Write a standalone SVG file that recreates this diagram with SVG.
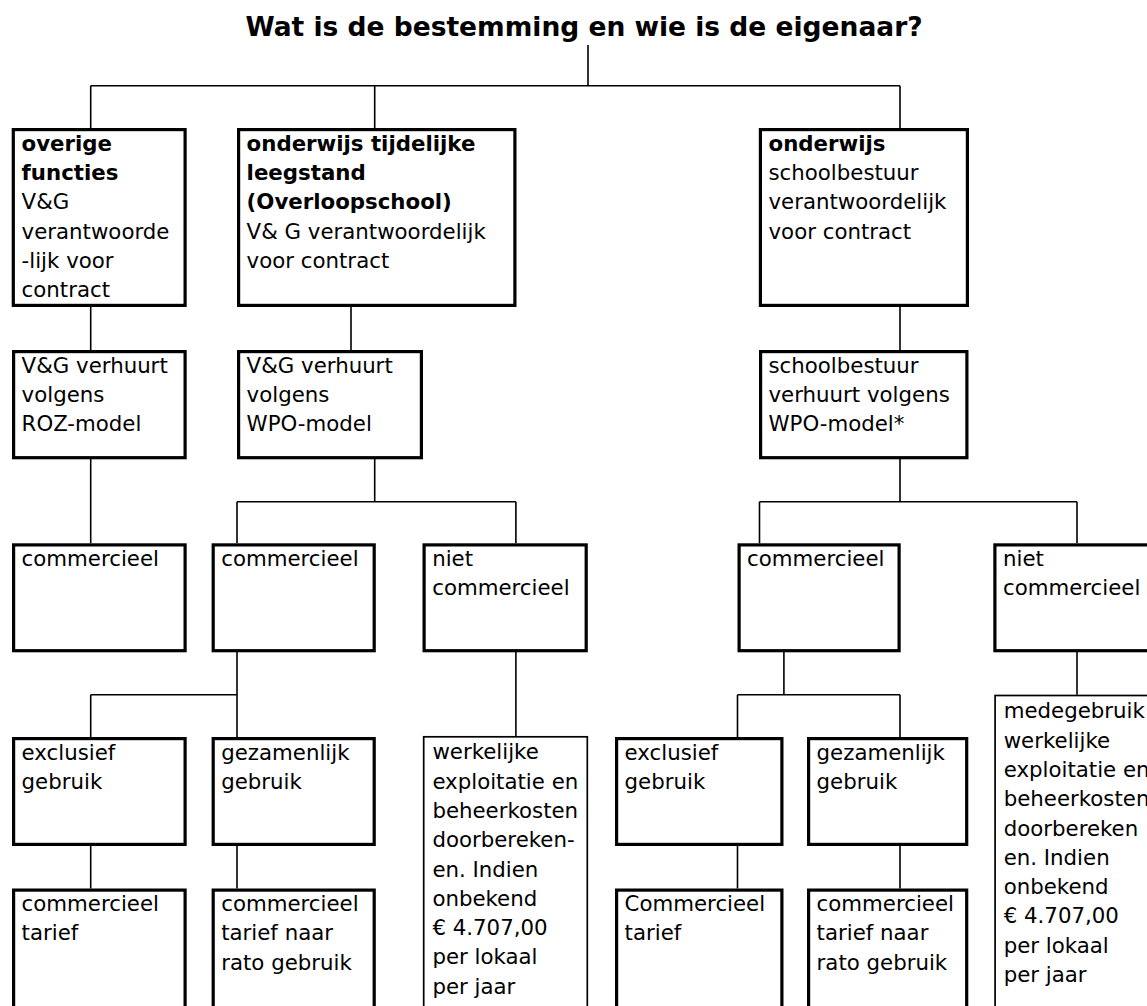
<svg xmlns="http://www.w3.org/2000/svg" width="1147" height="1006" viewBox="0 0 1147 1006">
<style>
.b{fill:#fff;stroke:#000;stroke-width:3.2}
.t{fill:#fff;stroke:#000;stroke-width:1.7}
.c{fill:none;stroke:#000;stroke-width:1.6}
text{font-family:"DejaVu Sans",Verdana,sans-serif;font-size:21.3px;fill:#000}
.h{font-weight:bold}
.title{font-size:26.5px;font-weight:bold}
</style>
<rect width="1147" height="1006" fill="#fff"/>
<text class="title" x="584" y="36" text-anchor="middle">Wat is de bestemming en wie is de eigenaar?</text>
<g id="connectors">
<path class="c" d="M588 45V85.7M90.7 85.7H900M90.7 85.7V128M374.7 85.7V128M900 85.7V128"/>
<path class="c" d="M90.7 307V350M351 307V350M900 307V350"/>
<path class="c" d="M90.7 459V543.3"/>
<path class="c" d="M374.7 459V501.7M237 501.7H515.9M237 501.7V543.3M515.9 501.7V543.3"/>
<path class="c" d="M900 459V501.7M759.5 501.7H1077M759.5 501.7V543.3M1077 501.7V543.3"/>
<path class="c" d="M237 652V737M90.7 694.7H237M90.7 694.7V737"/>
<path class="c" d="M515.9 652V736"/>
<path class="c" d="M783.9 652V694.7M737.5 694.7H900M737.5 694.7V737M900 694.7V737"/>
<path class="c" d="M1077 652V694.7"/>
<path class="c" d="M90.7 846V888.5M237 846V888.5M737.5 846V888.5M900 846V888.5"/>
</g>
<g id="n-overige">
<rect class="b" x="13.3" y="129.6" width="171.8" height="175.8"/>
<text x="21.6" y="150.7"><tspan class="h">overige</tspan><tspan class="h" x="21.6" dy="29.3">functies</tspan><tspan x="21.6" dy="29.3">V&amp;G</tspan><tspan x="21.6" dy="29.3">verantwoorde</tspan><tspan x="21.6" dy="29.3">-lijk voor</tspan><tspan x="21.6" dy="29.3">contract</tspan></text>
</g>
<g id="n-overloop">
<rect class="b" x="238.6" y="129.6" width="276.3" height="175.8"/>
<text x="246.6" y="150.7"><tspan class="h">onderwijs tijdelijke</tspan><tspan class="h" x="246.6" dy="29.3">leegstand</tspan><tspan class="h" x="246.6" dy="29.3">(Overloopschool)</tspan><tspan x="246.6" dy="29.3">V&amp; G verantwoordelijk</tspan><tspan x="246.6" dy="29.3">voor contract</tspan></text>
</g>
<g id="n-onderwijs">
<rect class="b" x="760.4" y="129.6" width="207" height="175.8"/>
<text x="768.5" y="150.7"><tspan class="h">onderwijs</tspan><tspan x="768.5" dy="29.3">schoolbestuur</tspan><tspan x="768.5" dy="29.3">verantwoordelijk</tspan><tspan x="768.5" dy="29.3">voor contract</tspan></text>
</g>
<g id="n-roz">
<rect class="b" x="13.6" y="351.6" width="171.5" height="106.1"/>
<text x="21.6" y="372.7"><tspan>V&amp;G verhuurt</tspan><tspan x="21.6" dy="29.3">volgens</tspan><tspan x="21.6" dy="29.3">ROZ-model</tspan></text>
</g>
<g id="n-wpo1">
<rect class="b" x="238.6" y="351.6" width="182.8" height="106.1"/>
<text x="246.6" y="372.7"><tspan>V&amp;G verhuurt</tspan><tspan x="246.6" dy="29.3">volgens</tspan><tspan x="246.6" dy="29.3">WPO-model</tspan></text>
</g>
<g id="n-wpo2">
<rect class="b" x="760.6" y="351.6" width="206.3" height="106.1"/>
<text x="768.5" y="372.7"><tspan>schoolbestuur</tspan><tspan x="768.5" dy="29.3">verhuurt volgens</tspan><tspan x="768.5" dy="29.3">WPO-model*</tspan></text>
</g>
<g id="n-comm-a">
<rect class="b" x="13.6" y="544.9" width="171.5" height="105.8"/>
<text x="21.6" y="566">commercieel</text>
</g>
<g id="n-comm-b">
<rect class="b" x="213.2" y="544.9" width="161" height="105.8"/>
<text x="221.2" y="566">commercieel</text>
</g>
<g id="n-niet-b">
<rect class="b" x="424.1" y="544.9" width="162.1" height="105.8"/>
<text x="432.2" y="566"><tspan>niet</tspan><tspan x="432.2" dy="29.3">commercieel</tspan></text>
</g>
<g id="n-comm-c">
<rect class="b" x="739.1" y="544.9" width="160" height="105.8"/>
<text x="747.1" y="566">commercieel</text>
</g>
<g id="n-niet-c">
<rect class="b" x="994.9" y="544.9" width="170" height="105.8"/>
<text x="1003" y="566"><tspan>niet</tspan><tspan x="1003" dy="29.3">commercieel</tspan></text>
</g>
<g id="n-excl-b">
<rect class="b" x="13.6" y="738.6" width="171.5" height="105.8"/>
<text x="21.6" y="759.5"><tspan>exclusief</tspan><tspan x="21.6" dy="29.3">gebruik</tspan></text>
</g>
<g id="n-gez-b">
<rect class="b" x="213.2" y="738.6" width="161" height="105.8"/>
<text x="221.2" y="759.5"><tspan>gezamenlijk</tspan><tspan x="221.2" dy="29.3">gebruik</tspan></text>
</g>
<g id="n-werkelijk-b">
<rect class="t" x="423.7" y="736.8" width="163.6" height="300"/>
<text x="432.4" y="759.3"><tspan>werkelijke</tspan><tspan x="432.4" dy="29.3">exploitatie en</tspan><tspan x="432.4" dy="29.3">beheerkosten</tspan><tspan x="432.4" dy="29.3">doorbereken-</tspan><tspan x="432.4" dy="29.3">en. Indien</tspan><tspan x="432.4" dy="29.3">onbekend</tspan><tspan x="432.4" dy="29.3">€ 4.707,00</tspan><tspan x="432.4" dy="29.3">per lokaal</tspan><tspan x="432.4" dy="29.3">per jaar</tspan></text>
</g>
<g id="n-excl-c">
<rect class="b" x="616.6" y="738.6" width="165.3" height="105.8"/>
<text x="624.6" y="759.5"><tspan>exclusief</tspan><tspan x="624.6" dy="29.3">gebruik</tspan></text>
</g>
<g id="n-gez-c">
<rect class="b" x="808.6" y="738.6" width="158.1" height="105.8"/>
<text x="816.6" y="759.5"><tspan>gezamenlijk</tspan><tspan x="816.6" dy="29.3">gebruik</tspan></text>
</g>
<g id="n-mede">
<rect class="t" x="995.1" y="695.5" width="170" height="340"/>
<text x="1003.7" y="718.3"><tspan>medegebruik</tspan><tspan x="1003.7" dy="29.3">werkelijke</tspan><tspan x="1003.7" dy="29.3">exploitatie en</tspan><tspan x="1003.7" dy="29.3">beheerkosten</tspan><tspan x="1003.7" dy="29.3">doorbereken</tspan><tspan x="1003.7" dy="29.3">en. Indien</tspan><tspan x="1003.7" dy="29.3">onbekend</tspan><tspan x="1003.7" dy="29.3">€ 4.707,00</tspan><tspan x="1003.7" dy="29.3">per lokaal</tspan><tspan x="1003.7" dy="29.3">per jaar</tspan></text>
</g>
<g id="n-tarief-a">
<rect class="b" x="13.6" y="890.1" width="171.5" height="140"/>
<text x="21.6" y="911"><tspan>commercieel</tspan><tspan x="21.6" dy="29.3">tarief</tspan></text>
</g>
<g id="n-tarief-b">
<rect class="b" x="213.2" y="890.1" width="161" height="140"/>
<text x="221.2" y="911"><tspan>commercieel</tspan><tspan x="221.2" dy="29.3">tarief naar</tspan><tspan x="221.2" dy="29.3">rato gebruik</tspan></text>
</g>
<g id="n-tarief-c">
<rect class="b" x="616.6" y="890.1" width="165.3" height="140"/>
<text x="624.6" y="911"><tspan>Commercieel</tspan><tspan x="624.6" dy="29.3">tarief</tspan></text>
</g>
<g id="n-tarief-d">
<rect class="b" x="808.6" y="890.1" width="158.1" height="140"/>
<text x="816.6" y="911"><tspan>commercieel</tspan><tspan x="816.6" dy="29.3">tarief naar</tspan><tspan x="816.6" dy="29.3">rato gebruik</tspan></text>
</g>
</svg>
